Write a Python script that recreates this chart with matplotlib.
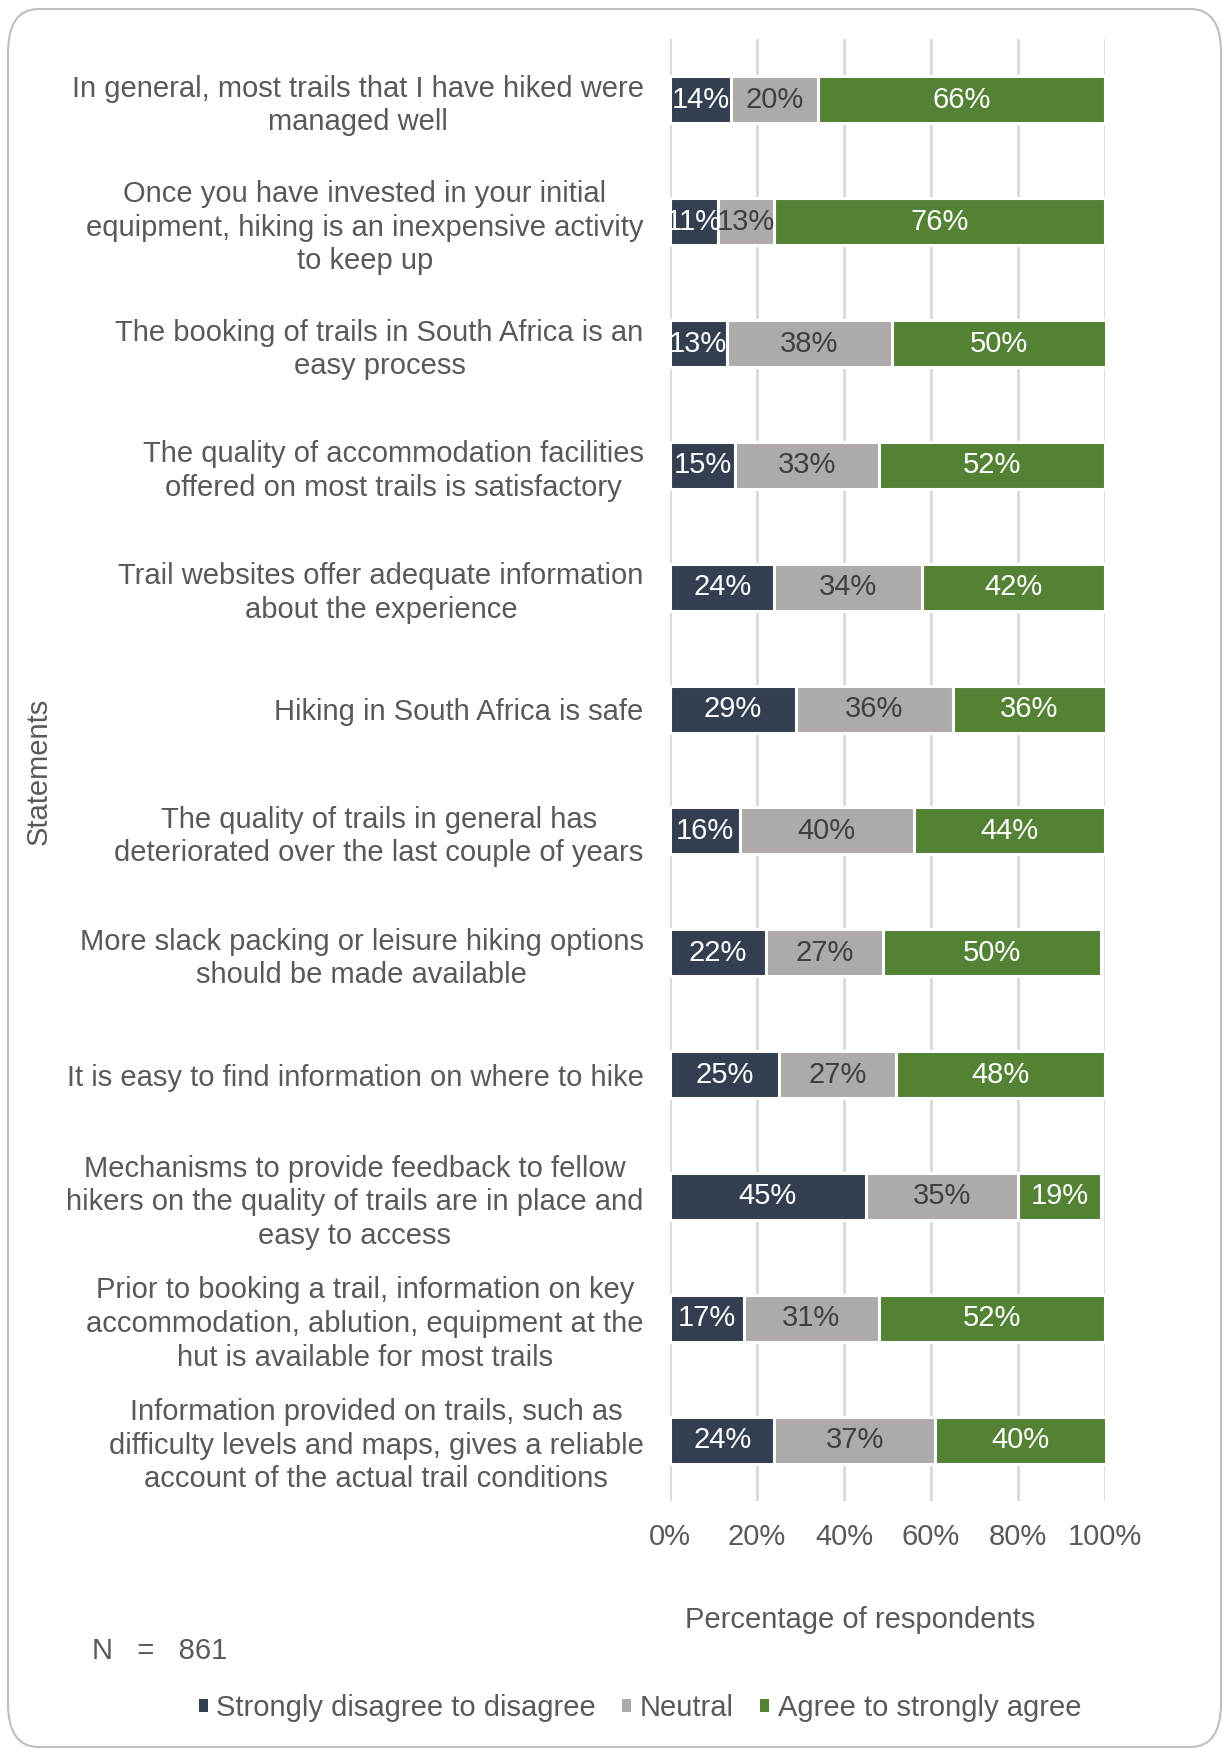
import matplotlib
matplotlib.use("Agg")
import matplotlib.pyplot as plt
from matplotlib.patches import FancyBboxPatch, Patch
import numpy as np

plt.rcParams['font.family'] = ['Liberation Sans', 'DejaVu Sans']

statements = [
    "In general, most trails that I have hiked were\nmanaged well",
    "Once you have invested in your initial\nequipment, hiking is an inexpensive activity\nto keep up",
    "The booking of trails in South Africa is an\neasy process",
    "The quality of accommodation facilities\noffered on most trails is satisfactory",
    "Trail websites offer adequate information\nabout the experience",
    "Hiking in South Africa is safe",
    "The quality of trails in general has\ndeteriorated over the last couple of years",
    "More slack packing or leisure hiking options\nshould be made available",
    "It is easy to find information on where to hike",
    "Mechanisms to provide feedback to fellow\nhikers on the quality of trails are in place and\neasy to access",
    "Prior to booking a trail, information on key\naccommodation, ablution, equipment at the\nhut is available for most trails",
    "Information provided on trails, such as\ndifficulty levels and maps, gives a reliable\naccount of the actual trail conditions",
]
disagree = [14, 11, 13, 15, 24, 29, 16, 22, 25, 45, 17, 24]
neutral = [20, 13, 38, 33, 34, 36, 40, 27, 27, 35, 31, 37]
agree = [66, 76, 50, 52, 42, 36, 44, 50, 48, 19, 52, 40]
series_names = ["Strongly disagree to disagree", "Neutral", "Agree to strongly agree"]
x_ticks = [0, 20, 40, 60, 80, 100]
sample_size = 861

colors = ["#333F50", "#AEAAAA", "#548235"]
label_colors = ["white", "#404040", "white"]
text_grey = "#595959"
fs = 21

W, H = 1222, 1753
fig = plt.figure(figsize=(W / 100, H / 100), dpi=100)

# rounded frame around the whole chart
frame = FancyBboxPatch((8 / W, 6 / H), (1213 / W), (1738 / H),
                       boxstyle="round,pad=0,rounding_size=0.025",
                       transform=fig.transFigure, facecolor="none",
                       edgecolor="#BFBFBF", linewidth=1.5, zorder=-1)
fig.patches.append(frame)

ax = fig.add_axes([670 / W, 1 - 1501 / H, (1105 - 670) / W, (1501 - 39) / H])
ax.set_facecolor("none")

y = np.arange(len(statements))
left = np.zeros(len(statements))
for vals, col, lcol in zip([disagree, neutral, agree], colors, label_colors):
    vals = np.array(vals, dtype=float)
    bars = ax.barh(y, vals, left=left, height=0.385, color=col,
                   edgecolor="white", linewidth=2.2, zorder=3)
    ax.bar_label(bars, labels=[f"{int(v)}%" for v in vals], label_type="center",
                 color=lcol, fontsize=fs, zorder=4)
    left += vals

ax.set_xlim(0, 100)
ax.set_ylim(len(statements) - 0.5, -0.5)
ax.set_yticks(y)
ax.set_yticklabels(statements, fontsize=fs, color=text_grey,
                   ha="right", multialignment="center", linespacing=1.25)
ax.set_xticks(x_ticks)
ax.set_xticklabels([f"{t}%" for t in x_ticks], fontsize=fs, color=text_grey)
ax.tick_params(axis="y", length=0, pad=19)
ax.tick_params(axis="x", length=0, pad=16)
ax.grid(axis="x", color="#D9D9D9", linewidth=2, zorder=0)
ax.set_axisbelow(True)
for s in ax.spines.values():
    s.set_visible(False)

fig.text(860 / W, 1 - 1620 / H, "Percentage of respondents", fontsize=fs,
         color=text_grey, ha="center", va="center")
fig.text(39 / W, 1 - 771 / H, "Statements", fontsize=fs, color=text_grey,
         rotation=90, ha="center", va="center")
fig.text(92 / W, 1 - 1651 / H, f"N   =   {sample_size}", fontsize=fs,
         color=text_grey, ha="left", va="center")

handles = [Patch(facecolor=c, edgecolor="none") for c in colors]
fig.legend(handles, series_names, loc="center", bbox_to_anchor=(640 / W, 1 - 1708 / H),
           ncol=3, frameon=False, fontsize=fs, labelcolor=text_grey,
           handlelength=0.3, handleheight=0.3, handletextpad=0.3,
           columnspacing=0.9)

fig.savefig("out.png", dpi=100)
